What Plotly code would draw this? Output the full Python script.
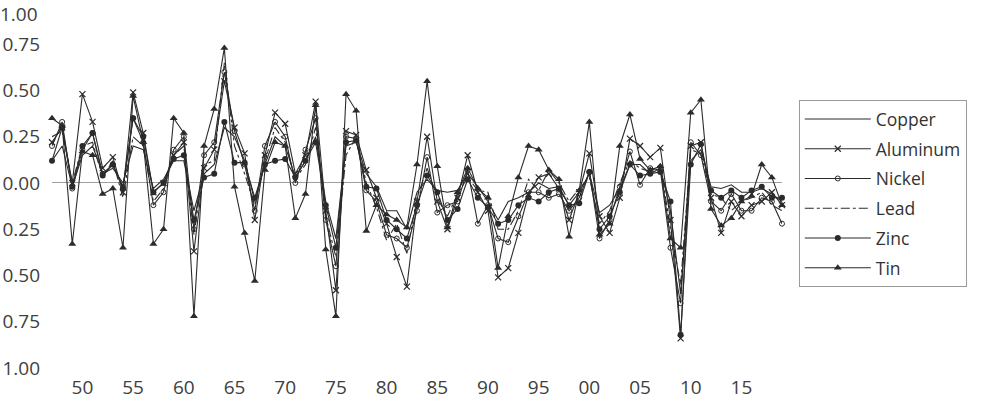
import plotly.graph_objects as go

years = list(range(1947, 2020))

copper = [0.12, 0.20, -0.02, 0.15, 0.20, 0.05, 0.08, 0.00, 0.20, 0.18,
          -0.03, 0.02, 0.12, 0.12, -0.15, 0.05, 0.10, 0.30, 0.25, 0.12,
          -0.10, 0.10, 0.25, 0.20, 0.03, 0.12, 0.25, -0.10, -0.30, 0.20,
          0.22, 0.05, -0.02, -0.15, -0.15, -0.25, -0.05, 0.02, -0.04, -0.05,
          -0.04, 0.05, -0.02, -0.10, -0.20, -0.10, -0.08, -0.05, 0.00, -0.03,
          -0.02, -0.12, -0.05, 0.05, -0.16, -0.12, -0.03, 0.10, 0.10, 0.05,
          0.08, -0.15, -0.60, 0.12, 0.18, -0.02, -0.03, -0.01, -0.05, -0.05,
          -0.03, -0.06, -0.10]
aluminum = [0.22, 0.30, 0.00, 0.48, 0.33, 0.08, 0.14, -0.05, 0.49, 0.27,
            -0.05, 0.00, 0.15, 0.22, -0.37, 0.08, 0.18, 0.55, 0.30, 0.16,
            -0.20, 0.15, 0.38, 0.32, 0.05, 0.15, 0.44, -0.15, -0.58, 0.28,
            0.26, 0.07, -0.08, -0.22, -0.40, -0.56, -0.10, 0.25, -0.10, -0.25,
            -0.08, 0.15, -0.05, -0.15, -0.51, -0.46, -0.27, -0.06, 0.03, 0.05,
            -0.03, -0.20, -0.05, 0.16, -0.18, -0.27, -0.08, 0.24, 0.20, 0.14,
            0.19, -0.20, -0.84, 0.20, 0.22, -0.08, -0.27, -0.10, -0.18, -0.12,
            -0.10, -0.05, -0.12]
nickel = [0.20, 0.33, -0.03, 0.18, 0.27, 0.05, 0.10, -0.02, 0.35, 0.22,
          -0.12, -0.05, 0.18, 0.25, -0.25, 0.15, 0.22, 0.60, 0.28, 0.10,
          -0.15, 0.20, 0.33, 0.25, 0.00, 0.18, 0.35, -0.20, -0.45, 0.25,
          0.24, -0.04, -0.10, -0.28, -0.30, -0.35, -0.15, 0.14, -0.16, -0.12,
          -0.10, 0.07, -0.22, -0.12, -0.30, -0.32, -0.18, -0.05, -0.05, -0.08,
          -0.06, -0.15, -0.08, 0.06, -0.30, -0.20, -0.02, 0.17, -0.01, 0.08,
          0.07, -0.35, -0.65, 0.22, 0.15, -0.10, -0.15, -0.06, -0.15, -0.15,
          -0.08, -0.10, -0.22]
lead = [0.25, 0.28, 0.00, 0.20, 0.22, 0.03, 0.12, -0.08, 0.25, 0.20,
        -0.10, -0.03, 0.15, 0.20, -0.28, 0.10, 0.12, 0.65, 0.20, 0.05,
        -0.12, 0.12, 0.30, 0.22, 0.02, 0.10, 0.30, -0.18, -0.40, 0.15,
        0.25, 0.00, -0.13, -0.31, -0.22, -0.38, -0.08, 0.08, -0.08, -0.18,
        -0.06, 0.03, -0.04, -0.05, -0.25, -0.25, -0.15, 0.02, -0.04, 0.07,
        0.00, -0.10, -0.03, 0.03, -0.22, -0.15, 0.00, 0.12, 0.08, 0.06,
        0.10, -0.25, -0.55, 0.18, 0.16, -0.06, -0.08, -0.15, -0.10, -0.08,
        -0.05, -0.12, -0.15]
zinc = [0.12, 0.30, -0.02, 0.20, 0.27, 0.04, 0.10, -0.03, 0.35, 0.25,
        -0.05, 0.00, 0.13, 0.15, -0.20, 0.03, 0.05, 0.33, 0.11, 0.11,
        -0.08, 0.10, 0.12, 0.13, 0.03, 0.12, 0.22, -0.12, -0.35, 0.22,
        0.23, -0.02, -0.03, -0.20, -0.25, -0.30, -0.12, 0.04, -0.05, -0.20,
        -0.14, 0.02, -0.08, -0.13, -0.22, -0.20, -0.12, -0.08, -0.10, -0.05,
        -0.03, -0.12, -0.11, 0.06, -0.25, -0.18, -0.05, 0.10, 0.04, 0.05,
        0.06, -0.10, -0.82, 0.10, 0.21, -0.04, -0.08, -0.04, -0.08, -0.04,
        -0.02, -0.08, -0.08]
tin = [0.35, 0.31, -0.33, 0.17, 0.15, -0.06, -0.03, -0.35, 0.47, 0.22,
       -0.33, -0.25, 0.35, 0.27, -0.72, 0.20, 0.40, 0.73, -0.02, -0.27,
       -0.53, 0.07, 0.22, 0.20, -0.19, -0.06, 0.42, -0.36, -0.72, 0.48,
       0.39, -0.26, -0.12, -0.17, -0.20, -0.24, 0.10, 0.55, 0.09, -0.24,
       -0.05, 0.08, -0.03, -0.08, -0.46, -0.18, 0.03, 0.20, 0.18, 0.07,
       0.02, -0.29, -0.04, 0.33, -0.28, -0.22, 0.20, 0.37, 0.13, 0.07,
       0.09, -0.30, -0.35, 0.38, 0.45, -0.14, -0.23, -0.19, -0.10, -0.07,
       0.10, 0.03, -0.12]

x_tick_years = list(range(1950, 2020, 5))
x_tick_labels = ["50", "55", "60", "65", "70", "75", "80", "85", "90", "95",
                 "00", "05", "10", "15"]
y_tick_vals = [-1.0, -0.75, -0.5, -0.25, 0.0, 0.25, 0.5, 0.75]
y_tick_labels = ["1.00", "0.75", "0.50", "0.25", "0.00", "0.25", "0.50", "0.75"]

LC = "#2b2b2b"
FONT = "Open Sans"
series = [
    ("Copper", copper, dict(dash="solid"), None),
    ("Aluminum", aluminum, dict(dash="solid"), dict(symbol="x-thin-open", size=6, line=dict(width=1.2, color=LC))),
    ("Nickel", nickel, dict(dash="solid"), dict(symbol="circle-open", size=5, line=dict(width=1, color=LC))),
    ("Lead", lead, dict(dash="dashdot"), None),
    ("Zinc", zinc, dict(dash="solid"), dict(symbol="circle", size=6)),
    ("Tin", tin, dict(dash="solid"), dict(symbol="triangle-up", size=7)),
]

fig = go.Figure()
for name, vals, ls, mk in series:
    kw = dict(x=years, y=vals, name=name, legendgroup=name, cliponaxis=False,
              line=dict(color=LC, width=1.1, **ls))
    if mk is None:
        kw["mode"] = "lines"
    else:
        kw["mode"] = "lines+markers"
        kw["marker"] = dict(color=LC, **mk)
    fig.add_trace(go.Scatter(**kw))

fig.update_layout(
    width=983, height=411,
    margin=dict(l=52, r=201, t=0, b=43),
    paper_bgcolor="white", plot_bgcolor="white",
    font=dict(family=FONT, color="#404040"),
    showlegend=True,
    legend=dict(x=1.023, xanchor="left", y=0.728, yanchor="top",
                bordercolor="#9a9a9a", borderwidth=1, font=dict(size=17.5, color="#333333"),
                tracegroupgap=4, itemwidth=66, bgcolor="white"),
    xaxis=dict(range=[1947, 2019], tickvals=x_tick_years, ticktext=x_tick_labels,
               showgrid=False, zeroline=False, showline=False, ticks="",
               ticklabelstandoff=6,
               tickfont=dict(size=19, family=FONT, color="#404040")),
    yaxis=dict(range=[-1.0, 0.989], tickvals=y_tick_vals, ticktext=y_tick_labels,
               showgrid=False, zeroline=True, zerolinecolor="#a0a0a0", zerolinewidth=1,
               showline=False, ticks="", ticklabelstandoff=11,
               tickfont=dict(size=19, family=FONT, color="#404040")),
)
fig.add_annotation(text="1.00", xref="paper", yref="paper", x=0, y=1.0,
                   xanchor="right", yanchor="top", xshift=-12, yshift=1, showarrow=False,
                   font=dict(size=19, family=FONT, color="#404040"))

fig.write_html("out.html")
